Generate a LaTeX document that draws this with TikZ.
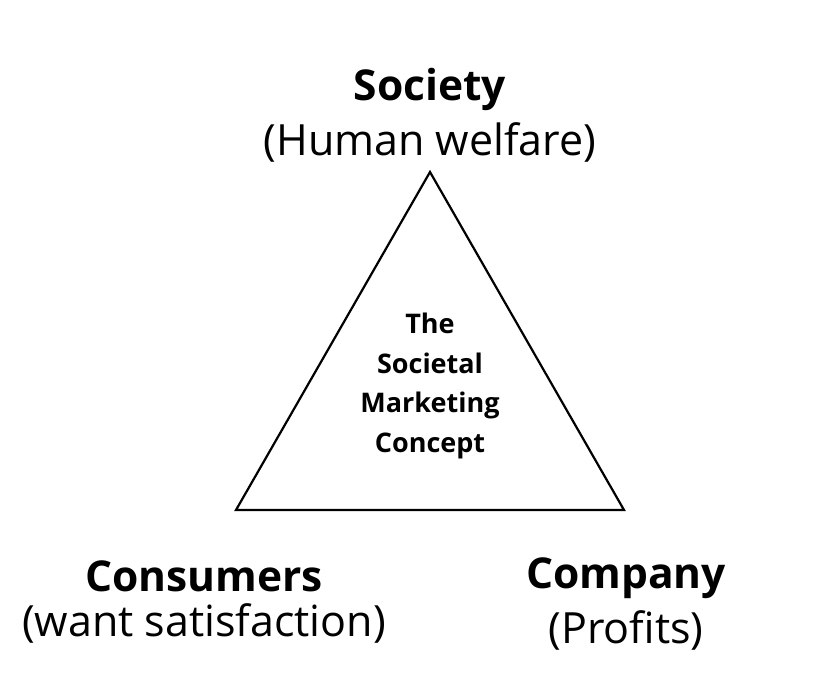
\documentclass[tikz,border=0pt]{standalone}
\usepackage{fontspec}
\setmainfont{Open Sans}
\begin{document}
\begin{tikzpicture}[x=1pt,y=-1pt,
  head/.style={font=\fontsize{42.5}{46}\selectfont\bfseries, inner sep=0pt, anchor=center},
  sub/.style={font=\fontsize{43}{46}\selectfont, inner sep=0pt, anchor=center},
  mid/.style={font=\fontsize{27}{39.5}\selectfont\bfseries, align=center, inner sep=0pt},
  tri/.style={draw=black, line width=2.2pt, line join=miter}]
\useasboundingbox (0,0) rectangle (826,690);
\coordinate (apex) at (430,172);
\coordinate (bl) at (236,510);
\coordinate (br) at (624,510);
\draw[tri] (apex) -- (bl) -- (br) -- cycle;
\node[head] (soc) at (430,89) {Society};
\node[sub] (socs) at (430,142) {(Human welfare)};
\node[mid] (c) at (430,386) {The\\Societal\\Marketing\\Concept};
\node[head] (con) at (204,576) {Consumers};
\node[sub] (cons) at (204,623) {(want satisfaction)};
\node[head] (com) at (626,578) {Company};
\node[sub] (coms) at (626,630) {(Profits)};
\end{tikzpicture}
\end{document}
